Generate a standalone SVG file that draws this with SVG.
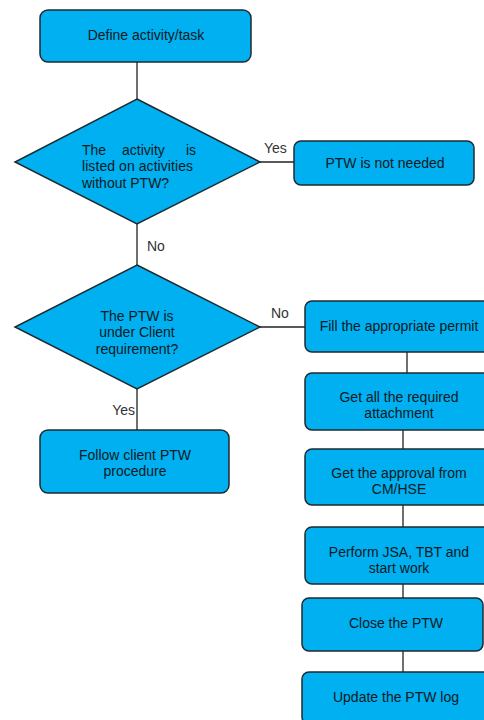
<svg xmlns="http://www.w3.org/2000/svg" width="484" height="720" viewBox="0 0 484 720">
<style>
.box{fill:#00B0F0;stroke:#1e2a30;stroke-width:1.5}
.t{font-family:"Liberation Sans",Arial,sans-serif;font-size:14px;fill:#0d1a24;text-anchor:middle}
.l{font-family:"Liberation Sans",Arial,sans-serif;font-size:14px;fill:#333333}
.d{font-family:"Liberation Sans",Arial,sans-serif;font-size:14px;fill:#0d1a24}
.c{stroke:#222222;stroke-width:1.3;fill:none}
</style>
<rect width="484" height="720" fill="#ffffff"/>
<g id="connectors">
<line class="c" x1="137" y1="62" x2="137" y2="99"/>
<line class="c" x1="260" y1="162" x2="294" y2="162"/>
<line class="c" x1="137" y1="224" x2="137" y2="265"/>
<line class="c" x1="260" y1="327" x2="305" y2="327"/>
<line class="c" x1="137" y1="389" x2="137" y2="430"/>
<line class="c" x1="407" y1="352" x2="407" y2="373"/>
<line class="c" x1="403" y1="430" x2="403" y2="449"/>
<line class="c" x1="403" y1="505" x2="403" y2="527"/>
<line class="c" x1="403" y1="584" x2="403" y2="598"/>
<line class="c" x1="403" y1="651" x2="403" y2="672"/>
<text class="l" x="264" y="153">Yes</text>
<text class="l" x="147" y="251">No</text>
<text class="l" x="271" y="318">No</text>
<text class="l" x="135" y="415" text-anchor="end">Yes</text>
</g>
<g id="define">
<rect class="box" x="40" y="10" width="211" height="52" rx="8"/>
<text class="t" x="146" y="40">Define activity/task</text>
</g>
<g id="decision1">
<polygon class="box" points="137,99 260,162 137,224 15,162"/>
<text class="d" y="155"><tspan x="82">The</tspan><tspan x="122">activity</tspan><tspan x="186">is</tspan></text>
<text class="d" x="82" y="171" textLength="111" lengthAdjust="spacing">listed on activities</text>
<text class="d" x="82" y="188">without PTW?</text>
</g>
<g id="notneeded">
<rect class="box" x="294" y="141" width="180" height="44" rx="7"/>
<text class="t" x="385" y="168">PTW is not needed</text>
</g>
<g id="decision2">
<polygon class="box" points="137,265 260,327 137,389 15,327"/>
<text class="t" x="137" y="321">The PTW is</text>
<text class="t" x="137" y="337">under Client</text>
<text class="t" x="137" y="354">requirement?</text>
</g>
<g id="followclient">
<rect class="box" x="40" y="430" width="189" height="63" rx="8"/>
<text class="t" x="135" y="460">Follow client PTW</text>
<text class="t" x="135" y="476">procedure</text>
</g>
<g id="fill">
<rect class="box" x="305" y="301" width="188" height="51" rx="7"/>
<text class="t" x="399" y="331">Fill the appropriate permit</text>
</g>
<g id="attachment">
<rect class="box" x="305" y="373" width="188" height="57" rx="7"/>
<text class="t" x="399" y="402">Get all the required</text>
<text class="t" x="399" y="418">attachment</text>
</g>
<g id="approval">
<rect class="box" x="305" y="449" width="188" height="56" rx="7"/>
<text class="t" x="399" y="478">Get the approval from</text>
<text class="t" x="399" y="494">CM/HSE</text>
</g>
<g id="perform">
<rect class="box" x="305" y="527" width="188" height="57" rx="7"/>
<text class="t" x="399" y="557">Perform JSA, TBT and</text>
<text class="t" x="399" y="573">start work</text>
</g>
<g id="close">
<rect class="box" x="302" y="598" width="181" height="53" rx="7"/>
<text class="t" x="396" y="628">Close the PTW</text>
</g>
<g id="update">
<rect class="box" x="302" y="672" width="188" height="52" rx="7"/>
<text class="t" x="396" y="702">Update the PTW log</text>
</g>
</svg>
